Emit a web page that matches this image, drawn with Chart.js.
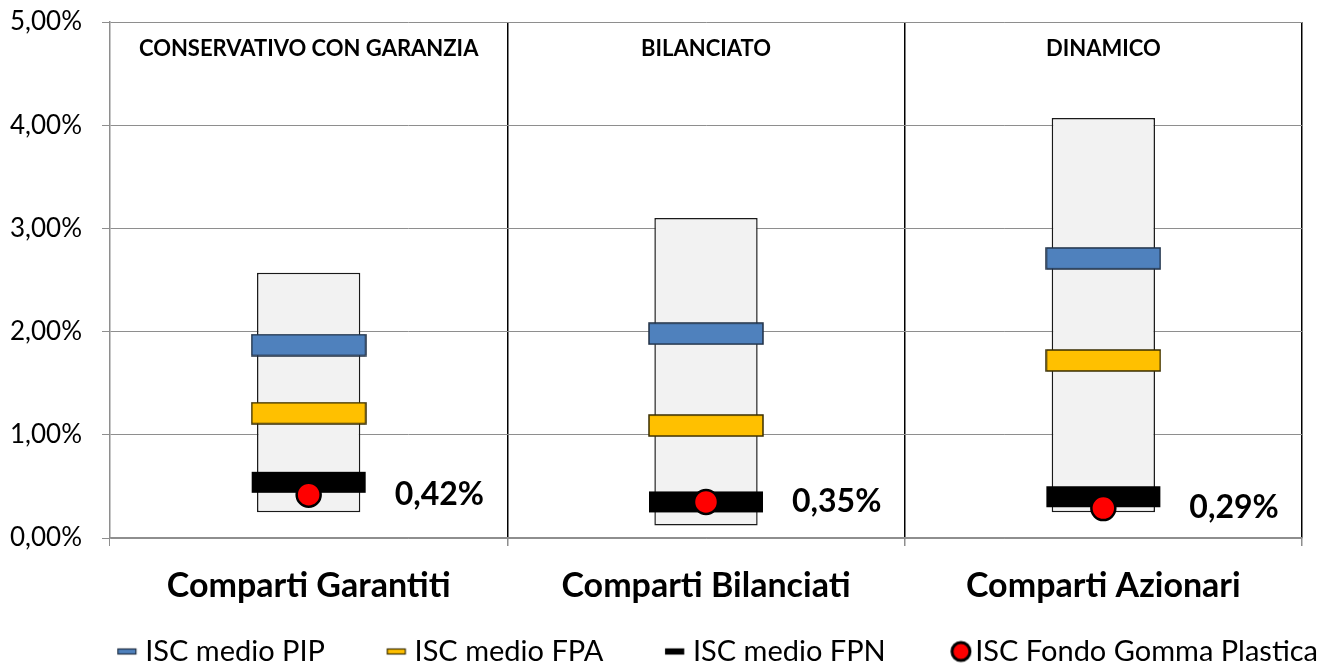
<!DOCTYPE html>
<html>
<head>
<meta charset="utf-8">
<script src="https://cdn.jsdelivr.net/npm/chart.js@4.4.1/dist/chart.umd.min.js"></script>
<style>
  html, body { margin: 0; padding: 0; background: #ffffff; }
  #wrap { width: 1320px; height: 668px; position: relative; }
</style>
</head>
<body>
<div id="wrap"><canvas id="c"></canvas></div>
<script>
// ---- data ----
const categories = ['Comparti Garantiti', 'Comparti Bilanciati', 'Comparti Azionari'];
const headers = ['CONSERVATIVO CON GARANZIA', 'BILANCIATO', 'DINAMICO'];
const rangeMin = [0.25, 0.12, 0.25];
const rangeMax = [2.57, 3.10, 4.07];
const iscPIP = [1.87, 1.98, 2.71];
const iscFPA = [1.21, 1.09, 1.72];
const iscFPN = [0.54, 0.35, 0.40];
const iscFondo = [0.42, 0.35, 0.29];
const yTicks = [0, 1, 2, 3, 4, 5];
const seriesNames = ['ISC medio PIP', 'ISC medio FPA', 'ISC medio FPN', 'ISC Fondo Gomma Plastica'];

const FONT = 'Lato';
const fmtPct = v => v.toFixed(2).replace('.', ',') + '%';

function rectMarker(w, h, fill, stroke, lw) {
  const c = document.createElement('canvas');
  c.width = w + 2; c.height = h + 2;
  const g = c.getContext('2d');
  g.fillStyle = fill;
  g.fillRect(1, 1, w, h);
  if (lw > 0) { g.lineWidth = lw; g.strokeStyle = stroke; g.strokeRect(1, 1, w, h); }
  return c;
}
function legendRect(fill, stroke) {
  const c = document.createElement('canvas');
  c.width = 96; c.height = 24;
  const g = c.getContext('2d');
  g.fillStyle = fill; g.fillRect(80.75 - 9, 9.5, 18, 5);
  g.lineWidth = 1.2; g.strokeStyle = stroke; g.strokeRect(80.75 - 9, 9.5, 18, 5);
  return c;
}
function legendDot() {
  const c = document.createElement('canvas');
  c.width = 96; c.height = 26;
  const g = c.getContext('2d');
  g.beginPath(); g.arc(84.75, 13, 9, 0, Math.PI * 2);
  g.fillStyle = '#ff0000'; g.fill();
  g.lineWidth = 3; g.strokeStyle = '#000'; g.stroke();
  return c;
}

const mPIP = rectMarker(114, 21, '#4f81bd', '#1f2f44', 1.5);
const mFPA = rectMarker(114, 21, '#ffc000', '#3a2e00', 1.5);
const mFPN = rectMarker(114, 21, '#000000', '#000000', 0);
const legendStyles = [legendRect('#4f81bd', '#1f2f44'), legendRect('#ffc000', '#3a2e00'), legendRect('#000', '#000'), legendDot()];

const overlayText = {
  id: 'overlayText',
  afterDatasetsDraw(chart) {
    const { ctx, chartArea, scales } = chart;
    ctx.save();
    ctx.fillStyle = '#000';
    ctx.textBaseline = 'middle';
    ctx.textAlign = 'center';
    ctx.font = 'bold 22px ' + FONT;
    headers.forEach((h, i) => {
      ctx.fillText(h, scales.x.getPixelForValue(i), chartArea.top + 27);
    });
    const meta = chart.getDatasetMeta(3);
    ctx.textAlign = 'left';
    ctx.font = 'bold 32px ' + FONT;
    meta.data.forEach((pt, i) => {
      ctx.fillText(fmtPct(iscFondo[i]), pt.x + 86, pt.y);
    });
    ctx.restore();
  }
};

function build() {
  Chart.defaults.font.family = FONT;
  Chart.defaults.color = '#000';
  const GRID = '#8e8e8e';
  new Chart(document.getElementById('c'), {
    type: 'bar',
    data: {
      labels: categories,
      datasets: [
        { type: 'line', label: seriesNames[0], data: iscPIP, showLine: false, pointStyle: mPIP, pointRadius: 10, pointHoverRadius: 10, order: 3 },
        { type: 'line', label: seriesNames[1], data: iscFPA, showLine: false, pointStyle: mFPA, pointRadius: 10, pointHoverRadius: 10, order: 2 },
        { type: 'line', label: seriesNames[2], data: iscFPN, showLine: false, pointStyle: mFPN, pointRadius: 10, pointHoverRadius: 10, order: 1 },
        { type: 'line', label: seriesNames[3], data: iscFondo, showLine: false, pointStyle: 'circle', pointRadius: 12, pointHoverRadius: 12,
          pointBackgroundColor: '#ff0000', pointBorderColor: '#000', pointBorderWidth: 2.5, order: 0 },
        { type: 'bar', label: 'range', data: rangeMin.map((v, i) => [v, rangeMax[i]]),
          backgroundColor: '#f2f2f2', borderColor: '#1a1a1a', borderWidth: 1.5, borderSkipped: false,
          barPercentage: 0.26, categoryPercentage: 1, order: 4 }
      ]
    },
    options: {
      responsive: true,
      maintainAspectRatio: false,
      animation: false,
      layout: { padding: { left: 10, right: 0, top: 22, bottom: -8 } },
      plugins: {
        tooltip: { enabled: false },
        title: { display: false },
        legend: {
          position: 'bottom',
          align: 'end',
          labels: {
            usePointStyle: true,
            pointStyleWidth: 73,
            padding: 2,
            color: '#000',
            font: { family: FONT, size: 29 },
            generateLabels(chart) {
              return seriesNames.map((n, i) => ({
                text: n, pointStyle: legendStyles[i], datasetIndex: i,
                fillStyle: 'transparent', strokeStyle: 'transparent', lineWidth: 0, hidden: false
              }));
            }
          }
        }
      },
      scales: {
        x: {
          type: 'category',
          offset: true,
          afterFit(s) { s.height = 97; },
          grid: {
            offset: true,
            drawTicks: true,
            tickLength: 8,
            color: c => c.index === 0 ? GRID : '#000',
            lineWidth: c => c.index === 0 ? 1 : 1.5,
            tickColor: GRID
          },
          border: { display: true, color: GRID, width: 1.5 },
          ticks: { padding: 20, color: '#000', font: { family: FONT, size: 34, weight: 'bold' } }
        },
        y: {
          min: 0, max: 5,
          afterFit(s) { s.width = 100; },
          afterBuildTicks(s) { s.ticks = yTicks.map(v => ({ value: v })); },
          grid: { color: GRID, lineWidth: 1, tickLength: 8, tickColor: GRID },
          border: { display: true, color: GRID, width: 1.5 },
          ticks: { padding: 0, crossAlign: 'far', color: '#000', font: { family: FONT, size: 26 }, callback: v => fmtPct(v) }
        },
        y2: {
          position: 'right',
          display: true,
          afterFit(s) { s.width = 18; },
          grid: { display: false, drawTicks: false },
          border: { display: false },
          ticks: { display: false }
        }
      }
    },
    plugins: [overlayText]
  });
}

Promise.all([
  document.fonts.load('26px Lato'),
  document.fonts.load('bold 34px Lato')
]).then(build, build);
</script>
</body>
</html>
